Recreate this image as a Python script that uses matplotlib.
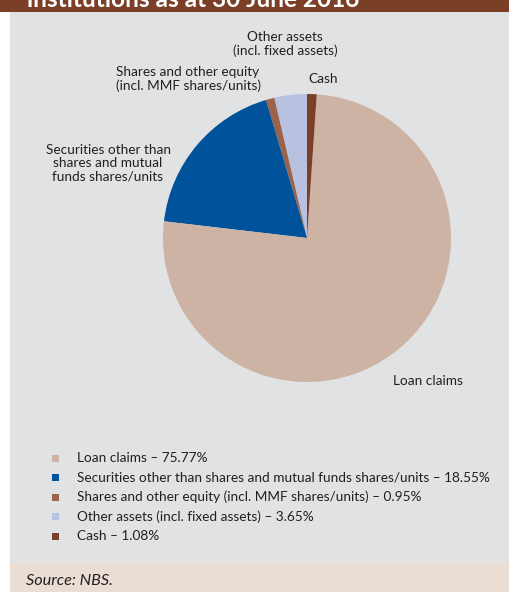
import matplotlib.pyplot as plt
from matplotlib.patches import Rectangle

plt.rcParams['font.family'] = ['Lato', 'DejaVu Sans']

W, H = 509, 592

# slice order runs counter-clockwise from 12 o'clock
names = ['Other assets (incl. fixed assets)',
         'Shares and other equity (incl. MMF shares/units)',
         'Securities other than shares and mutual funds shares/units',
         'Loan claims',
         'Cash']
shares = [3.65, 0.95, 18.55, 75.77, 1.08]
colors = ['#b8c1df', '#9a634a', '#00529b', '#cdb3a4', '#7b3f27']

legend_order = [3, 2, 1, 0, 4]

fig = plt.figure(figsize=(W / 100, H / 100), dpi=100)
fig.patch.set_facecolor('white')


def px(x, y):
    return x / W, 1 - y / H


def box(x0, y0, x1, y1, color, z=-5):
    fig.patches.append(Rectangle(px(x0, y1), (x1 - x0) / W, (y1 - y0) / H,
                                 transform=fig.transFigure, facecolor=color,
                                 edgecolor='none', zorder=z))


# background bands
box(0, 0, W, 12, '#7b3f27')
box(10, 12, W, 563, '#e1e2e4')
box(10, 563, W, H, '#eaddd3')

fig.text(*px(27, 7), 'institutions as at 30 June 2016', color='white',
         fontsize=17.6, fontweight='bold', va='baseline', ha='left')

# pie
cx, cy, r = 307, 238, 144
ax = fig.add_axes([(cx - r) / W, 1 - (cy + r) / H, 2 * r / W, 2 * r / H])
wedges, _ = ax.pie(shares, colors=colors, startangle=90, counterclock=True,
                   radius=1, wedgeprops=dict(linewidth=0))
ax.set_xlim(-1, 1)
ax.set_ylim(-1, 1)
ax.set_axis_off()

fs = 9.8
tc = '#231f20'
fig.text(*px(285, 44), 'Other assets\n(incl. fixed assets)', ha='center',
         va='center', fontsize=fs, color=tc, linespacing=1.15)
fig.text(*px(188, 79), 'Shares and other equity\n(incl. MMF shares/units)',
         ha='center', va='center', fontsize=fs, color=tc, linespacing=1.15)
fig.text(*px(323, 79), 'Cash', ha='center', va='center', fontsize=fs, color=tc)
fig.text(*px(108, 163), 'Securities other than\nshares and mutual\nfunds shares/units',
         ha='center', va='center', fontsize=fs, color=tc, linespacing=1.15)
fig.text(*px(393, 381), 'Loan claims', ha='left', va='center', fontsize=fs, color=tc)

# legend
for k, i in enumerate(legend_order):
    y = 458 + k * 19.5
    box(52, y - 3.5, 59, y + 3.5, colors[i], z=1)
    fig.text(*px(77, y), f'{names[i]} \u2013 {shares[i]:.2f}%', ha='left',
             va='center', fontsize=fs, color=tc)

fig.text(*px(26, 581), 'Source: NBS.', ha='left', va='center', fontsize=11.7,
         style='italic', color=tc)

fig.savefig('out.png', dpi=100)
